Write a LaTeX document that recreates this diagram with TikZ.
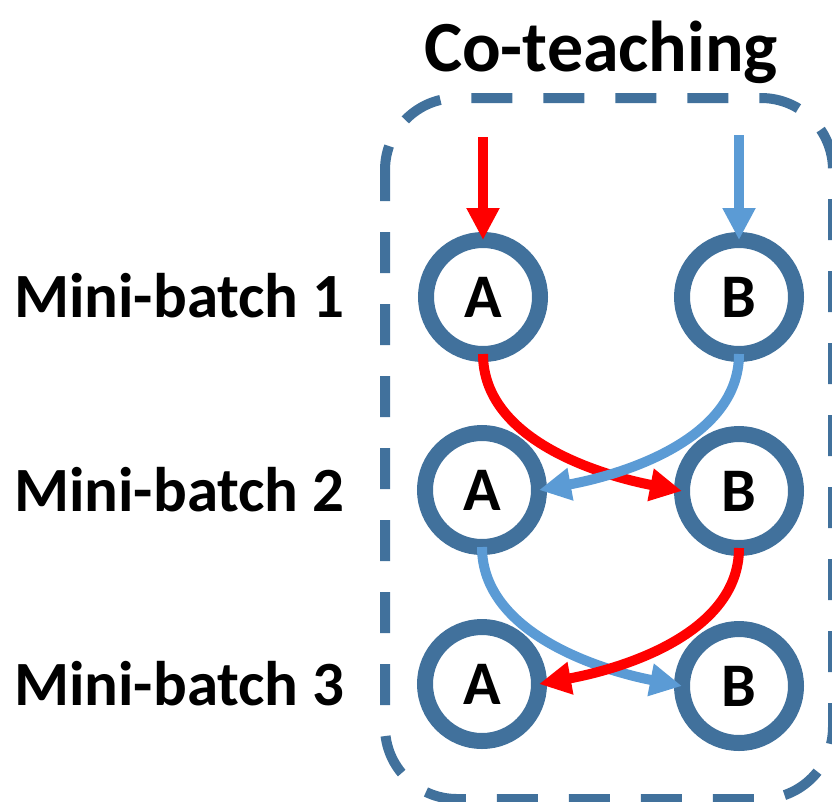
\documentclass[tikz,border=0pt]{standalone}
\usepackage{fontspec}
\setmainfont{Carlito}
\usetikzlibrary{arrows.meta}
\definecolor{ringblue}{HTML}{41719C}
\definecolor{lightblue}{HTML}{5B9BD5}
\definecolor{redarrow}{HTML}{FF0000}
\begin{document}
\begin{tikzpicture}[x=1pt,y=-1pt,
  net/.style={circle,draw=ringblue,line width=16pt,minimum size=114pt,inner sep=0pt,outer sep=0pt,
    font=\fontsize{62}{62}\selectfont\bfseries,fill=white},
  rowlabel/.style={anchor=base east,inner sep=0pt,font=\fontsize{63}{63}\selectfont\bfseries},
  flow/.style={line width=10pt,-{Triangle[length=32pt,width=31pt]}},
  dashbox/.style={draw=ringblue,line width=10pt,rounded corners=72pt,dash pattern=on 41pt off 31pt,dash phase=10pt}]
\useasboundingbox (0,0) rectangle (832,801);
\draw[dashbox] (385,98) rectangle (833,799);
\node[anchor=base,inner sep=0pt,font=\fontsize{72}{72}\selectfont\bfseries] (title) at (601,71) {Co-teaching};
\node[net] (A1) at (483,297) {A};
\node[net] (B1) at (739,297) {B};
\node[net] (A2) at (482,490) {A};
\node[net] (B2) at (739,491) {B};
\node[net] (A3) at (482,684) {A};
\node[net] (B3) at (739,686) {B};
\node[rowlabel] (L1) at (345,317) {Mini-batch 1};
\node[rowlabel] (L2) at (345,511) {Mini-batch 2};
\node[rowlabel] (L3) at (345,705) {Mini-batch 3};
\coordinate (inA) at (483,137);
\coordinate (inB) at (739,135);
\draw[flow,redarrow] (inA) -- (A1.north);
\draw[flow,lightblue] (inB) -- (B1.north);
\draw[flow,redarrow] (A1.south) .. controls +(0,86) and +(-82,-16) .. (B2.west);
\draw[flow,lightblue] (B1.south) .. controls +(0,86) and +(82,-15) .. (A2.east);
\draw[flow,lightblue] (A2.south) .. controls +(0,86) and +(-82,-16) .. (B3.west);
\draw[flow,redarrow] (B2.south) .. controls +(0,86) and +(82,-15) .. (A3.east);
\end{tikzpicture}
\end{document}
